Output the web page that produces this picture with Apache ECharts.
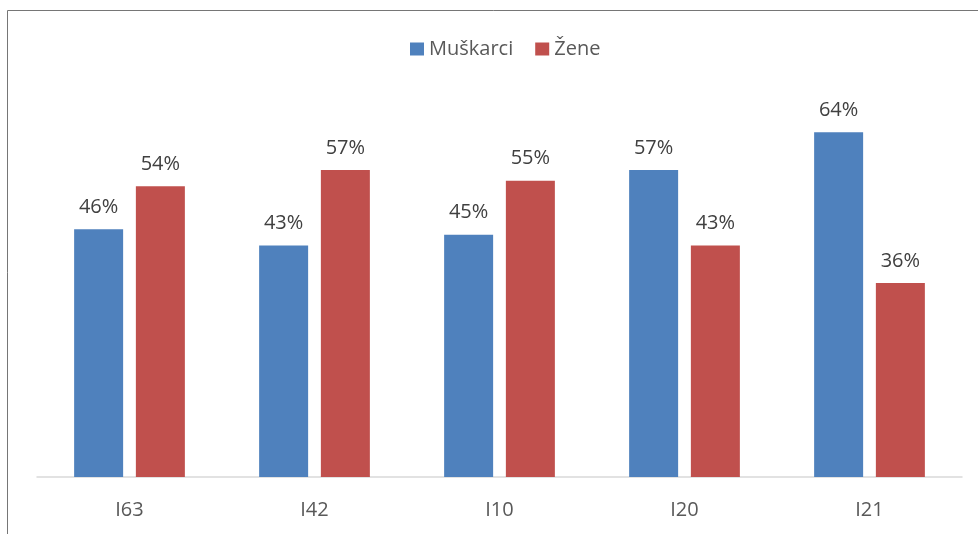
<!DOCTYPE html>
<html>
<head>
<meta charset="utf-8">
<script src="https://cdn.jsdelivr.net/npm/echarts@6/dist/echarts.min.js"></script>
<style>
  html, body { margin: 0; padding: 0; background: #fff; }
  #chart { width: 978px; height: 534px; }
</style>
</head>
<body>
<div id="chart"></div>
<script>
// kategorije i vrijednosti (%)
const categories = ['I63', 'I42', 'I10', 'I20', 'I21'];
const muskarci = [46, 43, 45, 57, 64];
const zene = [54, 57, 55, 43, 36];

const chart = echarts.init(document.getElementById('chart'));

const labelStyle = {
  show: true,
  position: 'top',
  distance: 12,
  formatter: '{c}%',
  color: '#404040',
  fontSize: 20,
  fontFamily: 'Open Sans'
};

chart.setOption({
  animation: false,
  backgroundColor: '#fff',
  graphic: [{
    type: 'rect',
    shape: { x: 7.5, y: 10.5, width: 1000, height: 600 },
    style: { fill: 'none', stroke: '#767676', lineWidth: 1 },
    silent: true
  }],
  legend: {
    top: 34,
    left: 405,
    itemWidth: 14,
    itemHeight: 13,
    itemGap: 22,
    icon: 'rect',
    textStyle: { color: '#595959', fontSize: 20, fontFamily: 'Open Sans' },
    data: ['Muškarci', 'Žene']
  },
  grid: { left: 37, right: 16, top: 100, bottom: 57 },
  xAxis: {
    type: 'category',
    data: categories,
    axisLine: { lineStyle: { color: '#d9d9d9', width: 1.5 } },
    axisTick: { show: false },
    axisLabel: { color: '#595959', fontSize: 20, fontFamily: 'Open Sans', margin: 23 }
  },
  yAxis: {
    type: 'value',
    min: 0,
    max: 70,
    show: false,
    splitLine: { show: false }
  },
  series: [
    {
      name: 'Muškarci',
      type: 'bar',
      data: muskarci,
      barWidth: 49,
      barGap: '26%',
      itemStyle: { color: '#4f81bd' },
      label: labelStyle
    },
    {
      name: 'Žene',
      type: 'bar',
      data: zene,
      barWidth: 49,
      itemStyle: { color: '#c0504d' },
      label: labelStyle
    }
  ]
});
</script>
</body>
</html>
